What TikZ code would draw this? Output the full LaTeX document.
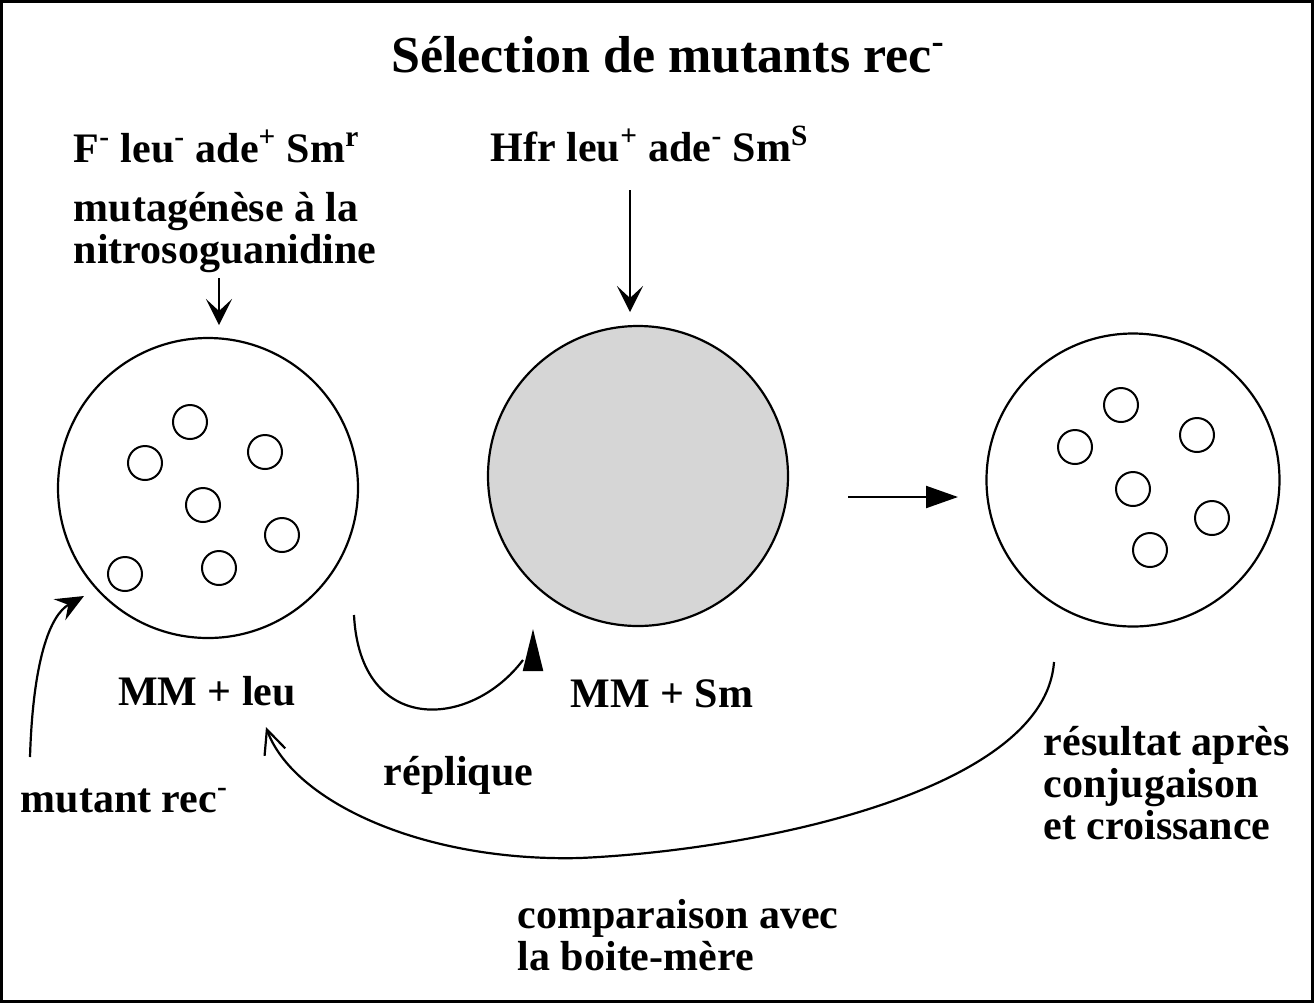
\documentclass[tikz,border=0pt]{standalone}
\usepackage{fontspec}
\setmainfont{Liberation Serif}
\usetikzlibrary{arrows.meta,positioning,calc}
\def\mn{\textsuperscript{-}}
\def\pl{\textsuperscript{+}}

\begin{document}
\begin{tikzpicture}[x=0.5pt,y=-0.5pt,thick]
\tikzset{plate/.style={circle,draw,line width=1.1pt,minimum size=150pt,inner sep=0pt},
  colony/.style={circle,draw,line width=1pt,minimum size=17pt,inner sep=0pt},
  txt/.style={font=\bfseries\fontsize{21}{21}\selectfont,inner sep=0pt,align=left},
  big/.style={font=\bfseries\fontsize{26}{30}\selectfont,inner sep=0pt},
  arr/.style={line width=1.1pt}}
\colorlet{agar}{black!16}

\useasboundingbox (0,0) rectangle (1314,1003);
\draw[line width=1.5pt] (1.5,1.5) rectangle (1312.5,1001.5);

\node[big,anchor=base] (title) at (668,72) {Sélection de mutants rec\mn};

% souches
\node[txt,anchor=base west] (donor) at (73,162) {F\mn{} leu\mn{} ade\pl{} Sm\textsuperscript{r}};
\node[txt,anchor=base west] (mutag) at (73,263) {mutagénèse à la\\nitrosoguanidine};
\node[txt,anchor=base west] (hfr) at (490,161) {Hfr leu\pl{} ade\mn{} Sm\textsuperscript{S}};

% boites
\node[plate] (plateA) at (208,488) {};
\node[plate,fill=agar] (plateB) at (638,476) {};
\node[plate,minimum size=146.5pt] (plateC) at (1133,480) {};
\foreach \x/\y in {190/422,145/463,265/452,203/505,282/535,125/574,219/568}
  \node[colony] at (\x,\y) {};
\foreach \x/\y in {1121/405,1075/447,1197/435,1133/489,1212/518,1150/550}
  \node[colony] at (\x,\y) {};

\node[txt,anchor=base] (labA) at (207,705) {MM + leu};
\node[txt,anchor=base] (labB) at (662,707) {MM + Sm};
\node[txt,anchor=base west] (replique) at (383,785) {réplique};
\node[txt,anchor=base west] (mutant) at (20,812) {mutant rec\mn};
\node[txt,anchor=base west] (result) at (1043,839) {résultat après\\conjugaison\\et croissance};
\node[txt,anchor=base west] (compare) at (517,970) {comparaison avec\\la boite-mère};

% fleches
\coordinate (mutA) at (219,278); \coordinate (mutB) at (219,325);
\draw[arr,-{Stealth[length=13pt,width=13pt,inset=6pt]}] (mutA) -- (mutB);
\coordinate (hfrA) at (630,190); \coordinate (hfrB) at (630,312);
\draw[arr,-{Stealth[length=13pt,width=13pt,inset=6pt]}] (hfrA) -- (hfrB);
\coordinate (conjA) at (848,497); \coordinate (conjB) at (958,497);
\draw[arr,-{Triangle[length=16pt,width=11pt]}] (conjA) -- (conjB);

\coordinate (repA) at (354,615); \coordinate (repB) at (523,660);
\coordinate (repTip) at (533,629);
\draw[arr] (repA) .. controls (360,735) and (470,730) .. (repB);
\draw[arr,-{Triangle[length=21pt,width=10pt]}] ($(repTip)+(0,42)$) -- (repTip);

\coordinate (mutC) at (30,757); \coordinate (mutD) at (84,596);
\draw[arr,-{Stealth[length=14pt,width=12pt,inset=5pt]}] (mutC) .. controls (33,660) and (50,615) .. (mutD);

\coordinate (cmpA) at (1054,662); \coordinate (cmpB) at (266,727);
\draw[arr,-{Straight Barb[length=12pt,width=11pt]}] (cmpA) .. controls (1045,790) and (760,850) .. (580,858)
  .. controls (420,862) and (292,800) .. (cmpB);
\end{tikzpicture}
\end{document}
